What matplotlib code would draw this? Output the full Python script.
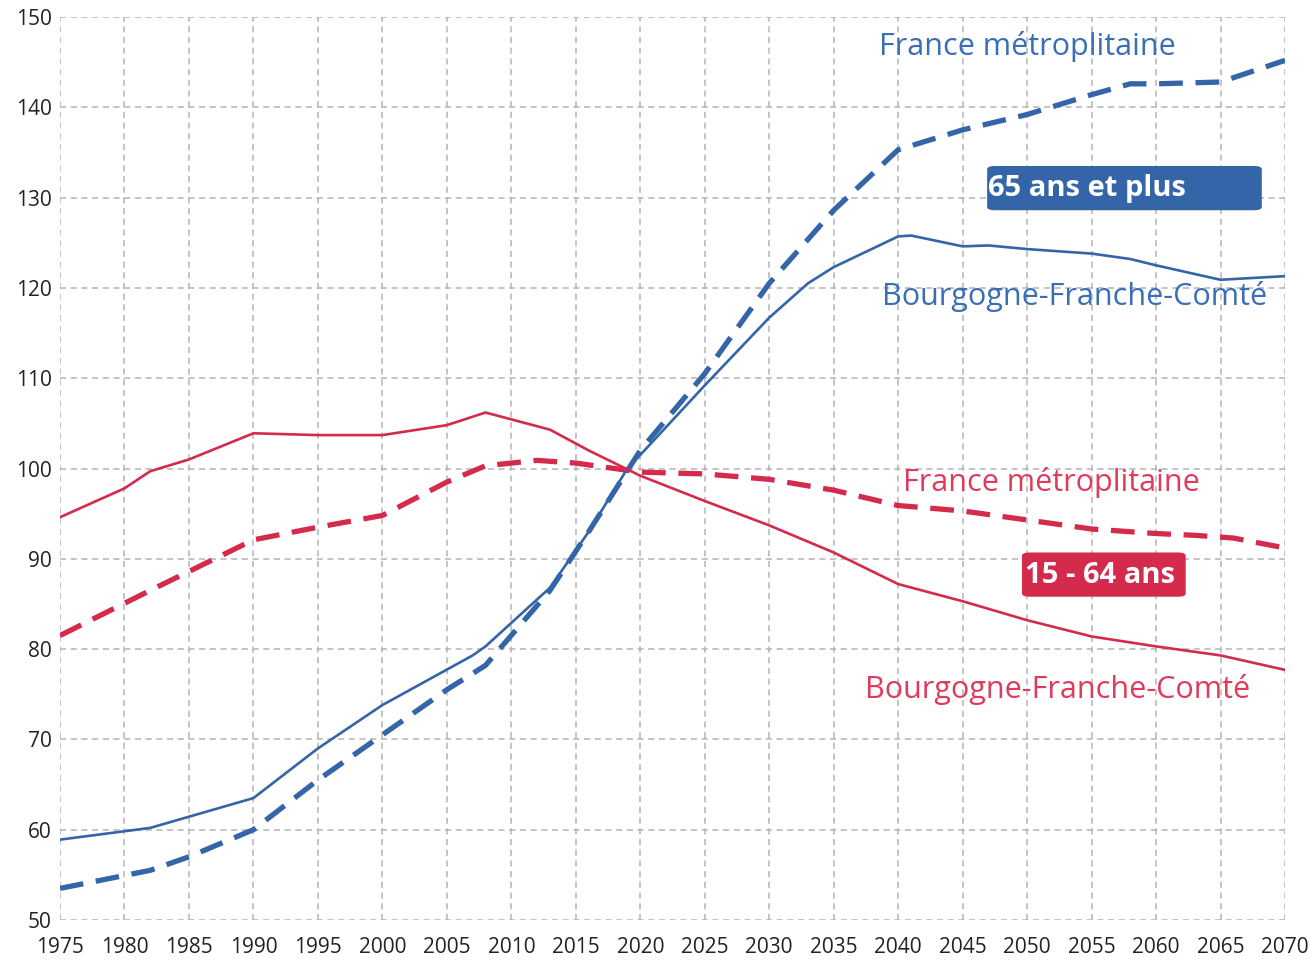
import matplotlib
matplotlib.use('Agg')
import matplotlib.pyplot as plt
from matplotlib.patches import FancyBboxPatch
import numpy as np

plt.rcParams['font.family'] = ['Open Sans', 'DejaVu Sans']

# Indice base 100 en 2020
years_bfc_65 = [1975, 1982, 1990, 1995, 2000, 2007, 2008, 2013, 2016, 2019, 2020, 2025,
                2030, 2033, 2035, 2040, 2041, 2045, 2047, 2050, 2055, 2058, 2060, 2065, 2070]
bfc_65 = [58.9, 60.2, 63.5, 69.0, 73.8, 79.3, 80.3, 86.8, 93.0, 100.0, 101.5, 109.2,
          116.7, 120.5, 122.3, 125.7, 125.8, 124.6, 124.7, 124.3, 123.8, 123.2, 122.5, 120.9, 121.3]

years_fr_65 = [1975, 1982, 1985, 1990, 1995, 2000, 2005, 2008, 2013, 2016, 2020, 2025,
               2030, 2035, 2040, 2045, 2050, 2055, 2058, 2060, 2065, 2070]
fr_65 = [53.5, 55.5, 57.0, 60.0, 65.5, 70.5, 75.5, 78.2, 86.5, 93.0, 102.0, 110.5,
         120.5, 128.6, 135.3, 137.5, 139.2, 141.4, 142.6, 142.6, 142.8, 145.2]

years_bfc_1564 = [1975, 1980, 1982, 1985, 1990, 1995, 2000, 2005, 2008, 2013, 2016, 2020,
                  2025, 2030, 2035, 2040, 2045, 2050, 2055, 2060, 2065, 2070]
bfc_1564 = [94.6, 97.8, 99.7, 101.0, 103.9, 103.7, 103.7, 104.8, 106.2, 104.3, 102.0, 99.2,
            96.4, 93.7, 90.7, 87.2, 85.3, 83.2, 81.4, 80.3, 79.3, 77.7]

years_fr_1564 = [1975, 1982, 1990, 1995, 2000, 2005, 2008, 2012, 2015, 2020, 2025, 2030,
                 2035, 2040, 2045, 2050, 2055, 2060, 2063, 2066, 2070]
fr_1564 = [81.5, 86.5, 92.1, 93.5, 94.8, 98.5, 100.3, 100.9, 100.6, 99.6, 99.4, 98.8,
           97.6, 95.9, 95.3, 94.3, 93.3, 92.8, 92.6, 92.3, 91.2]

xticks = list(range(1975, 2071, 5))
yticks = list(range(50, 151, 10))

blue = '#3465a8'
red = '#d42a4c'
blue_txt = '#3a6fb6'
red_txt = '#e03a5c'

fig = plt.figure(figsize=(13.12, 9.68), dpi=100)
ax = fig.add_axes([60/1312, 1 - 920/968, 1225/1312, 903/968])

ax.plot(years_bfc_65, bfc_65, color=blue, lw=1.9, zorder=4)
l1, = ax.plot(years_fr_65, fr_65, color=blue, lw=3.8, zorder=3)
l1.set_dashes((4.5, 2.4))
ax.plot(years_bfc_1564, bfc_1564, color=red, lw=1.9, zorder=4)
l2, = ax.plot(years_fr_1564, fr_1564, color=red, lw=3.8, zorder=3)
l2.set_dashes((4.5, 2.4))

ax.set_xlim(1975, 2070)
ax.set_ylim(50, 150)
ax.set_xticks(xticks)
ax.set_yticks(yticks)
ax.tick_params(length=0, labelsize=15, colors='#222222')
ax.tick_params(axis='x', pad=12)
ax.tick_params(axis='y', pad=6)
for s in ax.spines.values():
    s.set_visible(False)
ax.grid(True, color='#b4b4b4', lw=1.1, linestyle=(0, (4, 3)), zorder=0)
ax.set_axisbelow(True)

# libellés
ax.text(2050.0, 146.7, 'France métroplitaine', color=blue_txt, fontsize=22,
        ha='center', va='center')
ax.text(2053.7, 119.0, 'Bourgogne-Franche-Comté', color=blue_txt, fontsize=22,
        ha='center', va='center')
ax.text(2051.9, 98.4, 'France métroplitaine', color=red_txt, fontsize=22,
        ha='center', va='center')
ax.text(2052.4, 75.5, 'Bourgogne-Franche-Comté', color=red_txt, fontsize=22,
        ha='center', va='center')

# étiquettes en boîte
ax.add_patch(FancyBboxPatch((2046.9, 128.6), 21.3, 4.9,
                            boxstyle='round,pad=0,rounding_size=0.6',
                            fc=blue, ec='none', zorder=5, mutation_aspect=0.6))
ax.text(2047.0, 131.0, '65 ans et plus', color='white', fontsize=21,
        fontweight='bold', ha='left', va='center', zorder=6)
ax.add_patch(FancyBboxPatch((2049.6, 85.8), 12.7, 4.9,
                            boxstyle='round,pad=0,rounding_size=0.6',
                            fc=red, ec='none', zorder=5, mutation_aspect=0.6))
ax.text(2049.8, 88.2, '15 - 64 ans', color='white', fontsize=21,
        fontweight='bold', ha='left', va='center', zorder=6)

fig.savefig('out.png', dpi=100)
